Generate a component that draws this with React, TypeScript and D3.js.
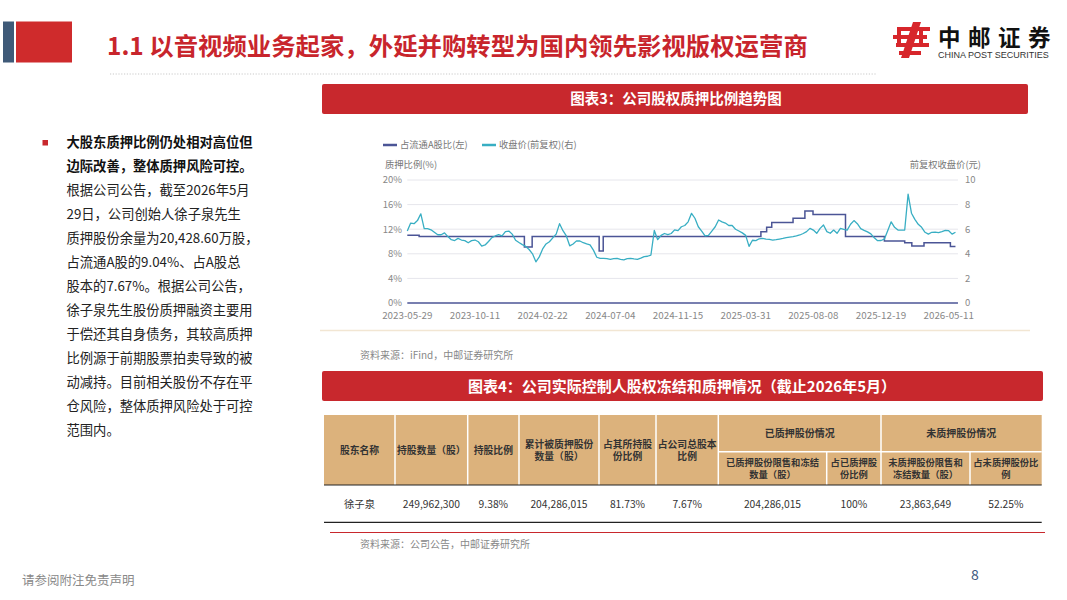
import React from "react";
import * as d3 from "d3";

// ---------- DATA ----------
const xLabels = ["2023-05-29", "2023-10-11", "2024-02-22", "2024-07-04", "2024-11-15", "2025-03-31", "2025-08-08", "2025-12-19", "2026-05-11"];
const labelEvery = 20; // samples between two axis labels

// 收盘价(前复权)(右), sampled evenly along the trading-day axis
const price = [
  5.85, 6.5, 6.45, 6.7, 7.25, 6.05, 6.05, 5.95, 5.75, 5.55,
  5.55, 5.7, 5.4, 5.15, 5.08, 5.25, 5.12, 5.07, 4.9, 5.07,
  5.12, 4.98, 4.63, 4.72, 5.0, 5.31, 5.45, 5.55, 5.45, 5.8,
  5.85, 5.6, 5.1, 4.92, 4.75, 4.6, 4.35, 4.0, 3.35, 3.75,
  4.4, 4.8, 4.98, 5.3, 5.6, 6.45, 5.88, 5.45, 4.65, 4.8,
  5.05, 5.04, 4.9, 4.8, 4.72, 4.3, 3.72, 3.63, 3.63, 3.6,
  3.55, 3.6, 3.63, 3.55, 3.5, 3.6, 3.62, 3.58, 3.55, 3.65,
  3.77, 3.8, 3.9, 5.9, 5.15, 5.5, 5.65, 5.55, 5.65, 5.95,
  5.88, 6.2, 6.3, 6.6, 7.29, 6.89, 6.2, 5.85, 5.45, 5.5,
  5.85, 6.2, 6.75, 6.6, 6.5, 6.3, 6.3, 6.0, 5.85, 5.7,
  5.5, 4.6, 5.1, 5.07, 5.22, 5.26, 5.2, 5.17, 5.12, 5.15,
  5.2, 5.25, 5.31, 5.35, 5.39, 5.45, 5.53, 5.65, 5.8, 6.07,
  5.93, 5.67, 6.07, 6.34, 5.8, 5.67, 5.93, 5.67, 6.07, 5.99,
  5.93, 6.4, 6.7, 6.45, 6.05, 5.9, 5.78, 5.62, 5.3, 5.07,
  5.08, 5.2, 5.9, 6.6, 6.15, 5.93, 5.93, 5.93, 8.85, 7.3,
  6.8, 6.4, 6.15, 5.75, 5.6, 5.75, 5.76, 5.72, 5.8, 5.9,
  5.88, 5.6, 5.75,
];

// 占流通A股比(左), change points [sample index, %]
const pledgeSteps: [number, number][] = [
  [0, 11.0], [3.5, 10.8], [34.6, 9.1], [36.9, 10.8], [56.7, 8.45], [57.9, 10.8],
  [104.5, 11.6], [106.2, 12.3], [107.7, 13.1], [114.0, 13.8], [117.5, 14.95],
  [119.9, 14.4], [129.5, 10.8], [141.0, 10.1], [147.0, 9.8], [149.1, 9.27],
  [152.7, 9.8], [160.5, 9.2], [162, 9.2],
];

const leftTicks = [0, 4, 8, 12, 16, 20];
const rightTicks = [0, 2, 4, 6, 8, 10];
const legendNames = ["占流通A股比(左)", "收盘价(前复权)(右)"];

// table
const tableHeadSingle = [
  ["股东名称"], ["持股数量（股）"], ["持股比例"], ["累计被质押股份", "数量（股）"],
  ["占其所持股", "份比例"], ["占公司总股本", "比例"],
];
const tableGroups = ["已质押股份情况", "未质押股份情况"];
const tableSubHeads = [
  ["已质押股份限售和冻结", "数量（股）"], ["占已质押股", "份比例"],
  ["未质押股份限售和", "冻结数量（股）"], ["占未质押股份比", "例"],
];
const tableRow = ["徐子泉", "249,962,300", "9.38%", "204,286,015", "81.73%", "7.67%", "204,286,015", "100%", "23,863,649", "52.25%"];

const bulletBold = ["大股东质押比例仍处相对高位但", "边际改善，整体质押风险可控。"];
const bulletText = [
  "根据公司公告，截至2026年5月", "29日，公司创始人徐子泉先生", "质押股份余量为20,428.60万股，",
  "占流通A股的9.04%、占A股总", "股本的7.67%。根据公司公告，", "徐子泉先生股份质押融资主要用",
  "于偿还其自身债务，其较高质押", "比例源于前期股票拍卖导致的被", "动减持。目前相关股份不存在平",
  "仓风险，整体质押风险处于可控", "范围内。",
];

// ---------- STYLE ----------
const CJK = "'Noto Sans CJK SC', 'Noto Sans', sans-serif";
const RED = "#c8282d";
const NAVY = "#4b5596";
const TEAL = "#38aec3";
const TAN = "#dcb27c";

export default function App() {
  const x = d3.scaleLinear().domain([0, (xLabels.length - 1) * labelEvery]).range([407.3, 948.7]);
  const yL = d3.scaleLinear().domain([0, 20]).range([303, 180]);
  const yR = d3.scaleLinear().domain([0, 10]).range([303, 180]);
  const plotL = x(0);
  const plotR = x(price.length - 1) + 2.5;

  const priceLine = d3.line<number>().x((_, i) => x(i)).y((d) => yR(d))(price) || "";
  const pledgeLine = d3.line<[number, number]>().x((d) => x(d[0])).y((d) => yL(d[1])).curve(d3.curveStepAfter)(pledgeSteps) || "";

  // table geometry
  const colEdges = [324, 395, 467.7, 519, 599, 656, 718.3, 826.7, 881, 970, 1041.7];
  const tTop = 415, tMid = 451.7, tHead = 485, tBot = 522.3;

  const lineY0 = 142.7, lineStep = 23.95;

  return (
    <svg width={1067} height={600} style={{ position: "absolute", left: 0, top: 0, background: "#fff" }} fontFamily={CJK}>
      {/* header */}
      <rect x={3} y={21.5} width={11} height={41} fill="#3f5a78" />
      <rect x={16} y={21.5} width={56} height={41} fill="#cf2b2c" />
      <text x={107} y={55} fontSize={24.4} fontWeight={700} fill="#c8252c">1.1 以音视频业务起家，外延并购转型为国内领先影视版权运营商</text>
      <line x1={110} x2={877} y1={74} y2={74} stroke="#c9c9c9" strokeWidth={1} strokeDasharray="1.2 1.6" />

      {/* logo */}
      <g fill="#d7262b">
        <path d="M913 22 L921 22 L909 58 L901 58 Z" />
        <rect x={897} y={27} width={33} height={4} />
        <rect x={893} y={35} width={34} height={4} />
        <rect x={896} y={43} width={33} height={4} />
        <rect x={899} y={51} width={22} height={4} />
        <rect x={919} y={31} width={4} height={16} />
        <rect x={897} y={31} width={4} height={16} />
      </g>
      <text x={938} y={46} fontSize={22.5} fontWeight={700} fill="#111" letterSpacing={7.5}>中邮证券</text>
      <text x={938} y={58} fontSize={9} fill="#333" fontFamily="'Liberation Sans', Arial, sans-serif">CHINA POST SECURITIES</text>

      {/* left text */}
      <rect x={42.5} y={140} width={5.5} height={5.5} fill={RED} />
      {bulletBold.map((t, i) => (
        <text key={"b" + i} x={66.5} y={lineY0 + i * lineStep + 4.7} fontSize={13.3} fontWeight={700} fill="#111">{t}</text>
      ))}
      {bulletText.map((t, i) => (
        <text key={"t" + i} x={66.5} y={lineY0 + (i + 2) * lineStep + 4.7} fontSize={13.3} fill="#222">{t}</text>
      ))}

      {/* chart 3 title */}
      <rect x={322} y={84} width={706} height={30} rx={2} fill={RED} />
      <text x={676} y={104} textAnchor="middle" fontSize={14.5} fontWeight={700} fill="#fff">图表3：公司股权质押比例趋势图</text>

      {/* legend */}
      <line x1={383} x2={397} y1={145} y2={145} stroke={NAVY} strokeWidth={2.5} />
      <text x={400} y={148.3} fontSize={9.3} fill="#777">{legendNames[0]}</text>
      <line x1={482} x2={496} y1={145} y2={145} stroke={TEAL} strokeWidth={2.5} />
      <text x={499} y={148.3} fontSize={9.3} fill="#777">{legendNames[1]}</text>
      <text x={385} y={168} fontSize={9.3} fill="#777">质押比例(%)</text>
      <text x={981} y={168} fontSize={9.3} fill="#777" textAnchor="end">前复权收盘价(元)</text>

      {/* grid + axes */}
      {leftTicks.map((t) => (
        <g key={"l" + t}>
          {t !== 0 && <line x1={plotL} x2={plotR} y1={yL(t)} y2={yL(t)} stroke="#e6e6ec" strokeWidth={1} />}
          <text x={402} y={yL(t) + 3.3} fontSize={9.5} fill="#888" textAnchor="end">{t}%</text>
        </g>
      ))}
      {rightTicks.map((t) => (
        <text key={"r" + t} x={965} y={yR(t) + 3.3} fontSize={9.5} fill="#888">{t}</text>
      ))}
      <line x1={plotL} x2={plotR} y1={yL(0)} y2={yL(0)} stroke={NAVY} strokeWidth={1.5} />
      {xLabels.map((l, i) => (
        <text key={l} x={x(i * labelEvery)} y={318.5} fontSize={9.8} fill="#888" textAnchor="middle">{l}</text>
      ))}

      <path d={pledgeLine} fill="none" stroke={NAVY} strokeWidth={1.5} />
      <path d={priceLine} fill="none" stroke={TEAL} strokeWidth={1.3} strokeLinejoin="round" />

      <line x1={320} x2={1030} y1={330.5} y2={330.5} stroke="#f2e6d3" strokeWidth={1.5} />
      <text x={360} y={359} fontSize={10} fill="#888">资料来源：iFind，中邮证券研究所</text>

      {/* chart 4 title */}
      <rect x={322} y={371} width={721} height={30} rx={2} fill={RED} />
      <text x={682} y={391.5} textAnchor="middle" fontSize={15} fontWeight={700} fill="#fff">图表4：公司实际控制人股权冻结和质押情况（截止2026年5月）</text>

      {/* table */}
      <rect x={colEdges[0]} y={tTop} width={colEdges[10] - colEdges[0]} height={tHead - tTop} fill={TAN} />
      {colEdges.slice(1, 10).map((cx, i) => {
        const inGroup = i === 6 || i === 8;
        return <line key={"cv" + i} x1={cx} x2={cx} y1={inGroup ? tMid : tTop} y2={tHead} stroke="#fff" strokeWidth={1.5} />;
      })}
      <line x1={colEdges[6]} x2={colEdges[10]} y1={tMid} y2={tMid} stroke="#fff" strokeWidth={1.5} />
      {tableHeadSingle.map((lines, i) => {
        const cx = (colEdges[i] + colEdges[i + 1]) / 2;
        const cy = (tTop + tHead) / 2;
        return lines.map((t, j) => (
          <text key={"h" + i + j} x={cx} y={cy + 3.6 + (j - (lines.length - 1) / 2) * 12} fontSize={9.8} fontWeight={700} fill="#333" textAnchor="middle">{t}</text>
        ));
      })}
      {tableGroups.map((g, i) => (
        <text key={"g" + i} x={(colEdges[6 + i * 2] + colEdges[8 + i * 2]) / 2} y={(tTop + tMid) / 2 + 3.6} fontSize={10} fontWeight={700} fill="#333" textAnchor="middle">{g}</text>
      ))}
      {tableSubHeads.map((lines, i) => {
        const cx = (colEdges[6 + i] + colEdges[7 + i]) / 2;
        const cy = (tMid + tHead) / 2;
        return lines.map((t, j) => (
          <text key={"s" + i + j} x={cx} y={cy + 3.4 + (j - (lines.length - 1) / 2) * 12.2} fontSize={9.3} fontWeight={700} fill="#333" textAnchor="middle">{t}</text>
        ));
      })}
      <line x1={colEdges[0]} x2={colEdges[10]} y1={tHead} y2={tHead} stroke="#222" strokeWidth={1.2} />
      {tableRow.map((v, i) => (
        <text key={"d" + i} x={(colEdges[i] + colEdges[i + 1]) / 2} y={507.5} fontSize={10.3} fill="#333" textAnchor="middle">{v}</text>
      ))}
      <line x1={colEdges[0]} x2={colEdges[10]} y1={tBot} y2={tBot} stroke="#222" strokeWidth={1.2} />

      <line x1={330} x2={1045} y1={532.5} y2={532.5} stroke={RED} strokeWidth={1.2} />
      <text x={360} y={547.5} fontSize={10} fill="#888">资料来源：公司公告，中邮证券研究所</text>

      {/* footer */}
      <text x={22} y={585} fontSize={12.5} fill="#888">请参阅附注免责声明</text>
      <text x={975} y={580} fontSize={14} fill="#3d5a80" textAnchor="middle">8</text>
    </svg>
  );
}
